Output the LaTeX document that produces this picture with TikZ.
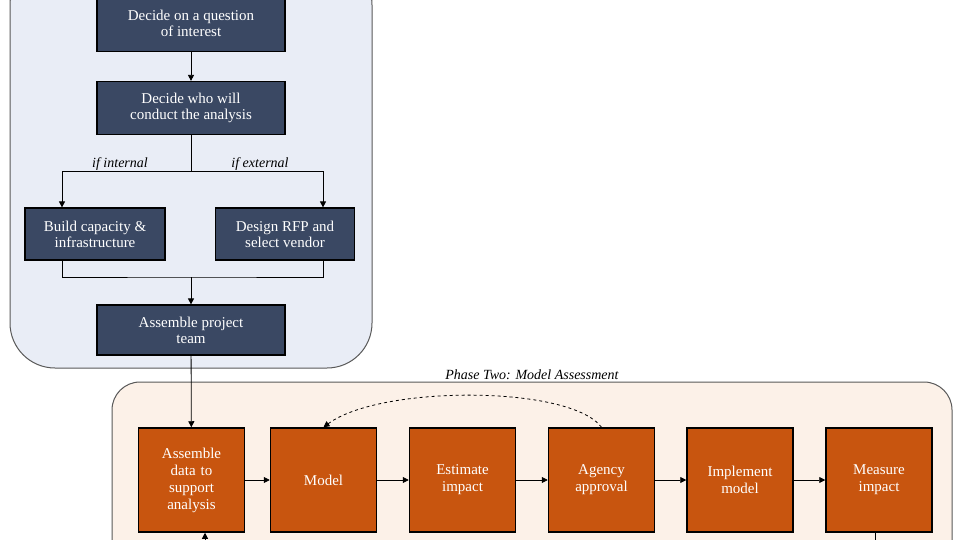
\documentclass[tikz,border=0pt]{standalone}
\usepackage{fontspec}
\setmainfont{Liberation Serif}
\usetikzlibrary{arrows.meta}
\definecolor{slate}{HTML}{3A4863}
\definecolor{panelA}{HTML}{E9EDF6}
\definecolor{panelB}{HTML}{FCF1E8}
\definecolor{orng}{HTML}{C8550F}
\begin{document}
\begin{tikzpicture}[x=1pt,y=-1pt,
  db/.style={draw=black,line width=1.2pt,fill=slate,text=white,align=center,font=\fontsize{15}{16}\selectfont,inner sep=0pt},
  ob/.style={draw=black,line width=1.5pt,fill=orng,text=white,align=center,font=\fontsize{15}{17}\selectfont,inner sep=0pt,minimum width=106pt,minimum height=104pt,text width=100pt},
  arr/.style={-{Triangle[length=6pt,width=6pt]},line width=0.8pt},
  lbl/.style={font=\itshape\fontsize{14}{15}\selectfont}]
\useasboundingbox (0,0) rectangle (960,540);
\clip (0,0) rectangle (960,540);
\fill[white] (0,0) rectangle (960,540);
\draw[gray!70!black,line width=1pt,fill=panelA,rounded corners=45pt] (10,-40) rectangle (372,368);
\draw[gray!70!black,line width=1pt,fill=panelB,rounded corners=28pt] (112,382) rectangle (952,600);
\node[lbl] (title) at (532,375) {Phase Two: Model Assessment};
\node[db,minimum width=188pt,minimum height=57pt] (q) at (191,23) {Decide on a question\\of interest};
\node[db,minimum width=188pt,minimum height=53pt] (who) at (191,108) {Decide who will\\conduct the analysis};
\node[db,minimum width=140pt,minimum height=52pt] (build) at (95,234) {Build capacity \&\\infrastructure};
\node[db,minimum width=139pt,minimum height=52pt] (rfp) at (285,234) {Design RFP and\\select vendor};
\node[db,minimum width=188pt,minimum height=50pt] (team) at (191,330) {Assemble project\\team};
\node[lbl] (lint) at (120,164) {if internal};
\node[lbl] (lext) at (260,164) {if external};
\coordinate (split) at (191,171);
\coordinate (merge) at (191,277);
\draw[arr] (q) -- (who);
\draw[line width=0.8pt] (who) -- (split);
\draw[arr] (split) -| (build.north -| 62,0);
\draw[arr] (split) -| (rfp.north -| 323,0);
\draw[line width=0.8pt] (build.south -| 62,0) |- (merge) -| (rfp.south -| 323,0);
\draw[arr] (merge) -- (team);
\node[ob] (asm) at (191.5,480) {Assemble\\data to\\support\\analysis};
\node[ob] (model) at (323.5,480) {Model};
\node[ob] (est) at (462.5,480) {Estimate\\impact};
\node[ob] (agency) at (601.5,480) {Agency\\approval};
\node[ob] (impl) at (740,480) {Implement\\model};
\node[ob] (meas) at (879,480) {Measure\\impact};
\draw[arr] (team) -- (asm);
\draw[arr] (asm) -- (model);
\draw[arr] (model) -- (est);
\draw[arr] (est) -- (agency);
\draw[arr] (agency) -- (impl);
\draw[arr] (impl) -- (meas);
\draw[arr,dashed] (agency.north) .. controls (570,385) and (380,385) .. (model.north);
\coordinate (lb) at (205,560);
\coordinate (rb) at (875,560);
\draw[arr] (lb) -- (lb |- asm.south);
\draw[line width=0.8pt] (rb |- meas.south) -- (rb);
\end{tikzpicture}
\end{document}
